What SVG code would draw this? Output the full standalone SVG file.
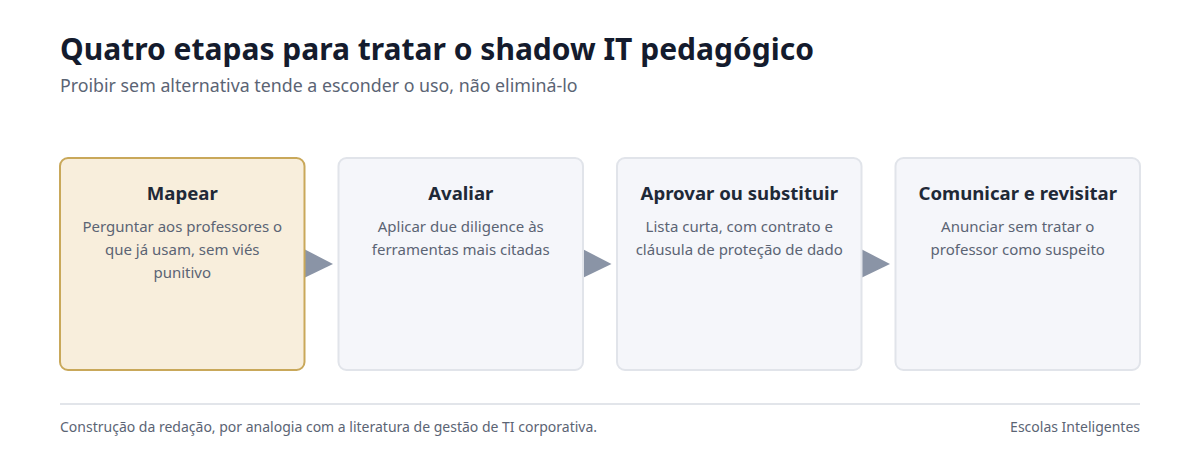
<svg xmlns="http://www.w3.org/2000/svg" width="1200" height="460" viewBox="0 0 1200 460">
<style>
text{font-family:"Noto Sans","Open Sans","Liberation Sans",sans-serif}
.title{font-size:30px;font-weight:700;fill:#141b2d}
.sub{font-size:17.8px;fill:#5b6474}
.box{fill:#f5f6fa;stroke:#e1e4ea;stroke-width:2}
.box.hl{fill:#f8eedc;stroke:#c9a85a}
.bt{font-size:18.6px;font-weight:700;fill:#1f2937;text-anchor:middle}
.bd{font-size:15px;fill:#5b6474;text-anchor:middle}
.arr{fill:#8a94a6}
.foot{font-size:14px;fill:#5b6474}
</style>
<rect width="1200" height="460" fill="#ffffff"/>
<text class="title" x="60" y="60">Quatro etapas para tratar o shadow IT pedagógico</text>
<text class="sub" x="60" y="92">Proibir sem alternativa tende a esconder o uso, não eliminá-lo</text>
<g id="connectors">
<polygon class="arr" points="304,249 333,264 304,278"/>
<polygon class="arr" points="582.5,249 611.5,264 582.5,278"/>
<polygon class="arr" points="861,249 890,264 861,278"/>
</g>
<g id="n1">
<rect class="box hl" x="60" y="158" width="244.5" height="212" rx="8"/>
<text class="bt" x="182.25" y="200">Mapear</text>
<text class="bd" x="182.25" y="232">Perguntar aos professores o</text>
<text class="bd" x="182.25" y="255">que já usam, sem viés</text>
<text class="bd" x="182.25" y="277.5">punitivo</text>
</g>
<g id="n2">
<rect class="box" x="338.5" y="158" width="244.5" height="212" rx="8"/>
<text class="bt" x="460.75" y="200">Avaliar</text>
<text class="bd" x="460.75" y="232">Aplicar due diligence às</text>
<text class="bd" x="460.75" y="255">ferramentas mais citadas</text>
</g>
<g id="n3">
<rect class="box" x="617" y="158" width="244.5" height="212" rx="8"/>
<text class="bt" x="739.25" y="200">Aprovar ou substituir</text>
<text class="bd" x="739.25" y="232">Lista curta, com contrato e</text>
<text class="bd" x="739.25" y="255">cláusula de proteção de dado</text>
</g>
<g id="n4">
<rect class="box" x="895.5" y="158" width="244.5" height="212" rx="8"/>
<text class="bt" x="1017.75" y="200">Comunicar e revisitar</text>
<text class="bd" x="1017.75" y="232">Anunciar sem tratar o</text>
<text class="bd" x="1017.75" y="255">professor como suspeito</text>
</g>
<line x1="60" y1="404" x2="1140" y2="404" stroke="#e2e5ea" stroke-width="2"/>
<text class="foot" x="60" y="432">Construção da redação, por analogia com a literatura de gestão de TI corporativa.</text>
<text class="foot" x="1140" y="432" text-anchor="end">Escolas Inteligentes</text>
</svg>
